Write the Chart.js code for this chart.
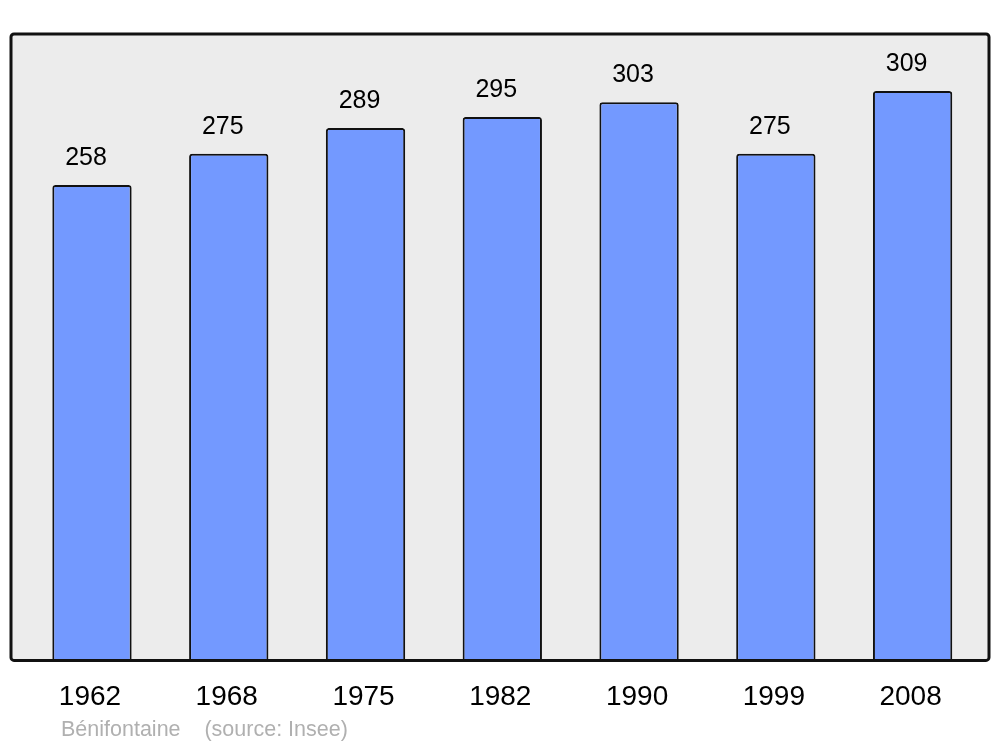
<!DOCTYPE html>
<html>
<head>
<meta charset="utf-8">
<script src="https://cdn.jsdelivr.net/npm/chart.js@4"></script>
<style>
html,body{margin:0;padding:0;background:#fff;}
#wrap{position:relative;width:1000px;height:747px;}
</style>
</head>
<body>
<div id="wrap"><canvas id="c" width="1000" height="747"></canvas></div>
<script>
const years = ["1962","1968","1975","1982","1990","1999","2008"];
const population = [258,275,289,295,303,275,309];
const sourceText = "Bénifontaine    (source: Insee)";

const FONT = "'Liberation Sans', Arial, sans-serif";

const framePlugin = {
  id: 'frame',
  beforeDraw(chart) {
    const {ctx, chartArea} = chart;
    const l = 11, r = 989, t = chartArea.top, b = chartArea.bottom;
    ctx.save();
    ctx.beginPath();
    ctx.roundRect(l, t, r - l, b - t, 3);
    ctx.fillStyle = '#ececec';
    ctx.fill();
    ctx.restore();
  },
  afterDatasetsDraw(chart) {
    const {ctx, chartArea} = chart;
    const l = 11, r = 989, t = chartArea.top, b = chartArea.bottom;
    ctx.save();
    ctx.beginPath();
    ctx.roundRect(l, t, r - l, b - t, 3);
    ctx.lineWidth = 3;
    ctx.strokeStyle = '#111';
    ctx.stroke();
    // value labels
    const meta = chart.getDatasetMeta(0);
    ctx.fillStyle = '#000';
    ctx.font = '25px ' + FONT;
    ctx.textAlign = 'center';
    ctx.textBaseline = 'middle';
    meta.data.forEach((bar, i) => {
      ctx.fillText(String(population[i]), bar.x - 6, bar.y - 27);
    });
    // source
    ctx.fillStyle = '#b0b0b0';
    ctx.font = '21.5px ' + FONT;
    ctx.textAlign = 'left';
    ctx.fillText(sourceText, 61, 730);
    ctx.restore();
  }
};

new Chart(document.getElementById('c'), {
  type: 'bar',
  data: {
    labels: years,
    datasets: [{
      data: population,
      backgroundColor: '#7399ff',
      borderColor: '#111',
      borderWidth: 2,
      borderRadius: {topLeft: 3, topRight: 3, bottomLeft: 0, bottomRight: 0},
      borderSkipped: 'bottom',
      categoryPercentage: 1,
      barPercentage: 0.58
    }]
  },
  options: {
    responsive: false,
    animation: false,
    devicePixelRatio: 1,
    layout: { padding: { left: 23.6, right: 19, top: 34, bottom: 13 } },
    plugins: { legend: { display: false }, tooltip: { enabled: false } },
    scales: {
      x: {
        grid: { display: false, drawTicks: false },
        border: { display: false },
        ticks: { color: '#000', font: { family: FONT, size: 28 }, padding: 20, labelOffset: -2, maxRotation: 0 }
      },
      y: {
        display: false,
        min: 0,
        max: 340
      }
    }
  },
  plugins: [framePlugin]
});
</script>
</body>
</html>
